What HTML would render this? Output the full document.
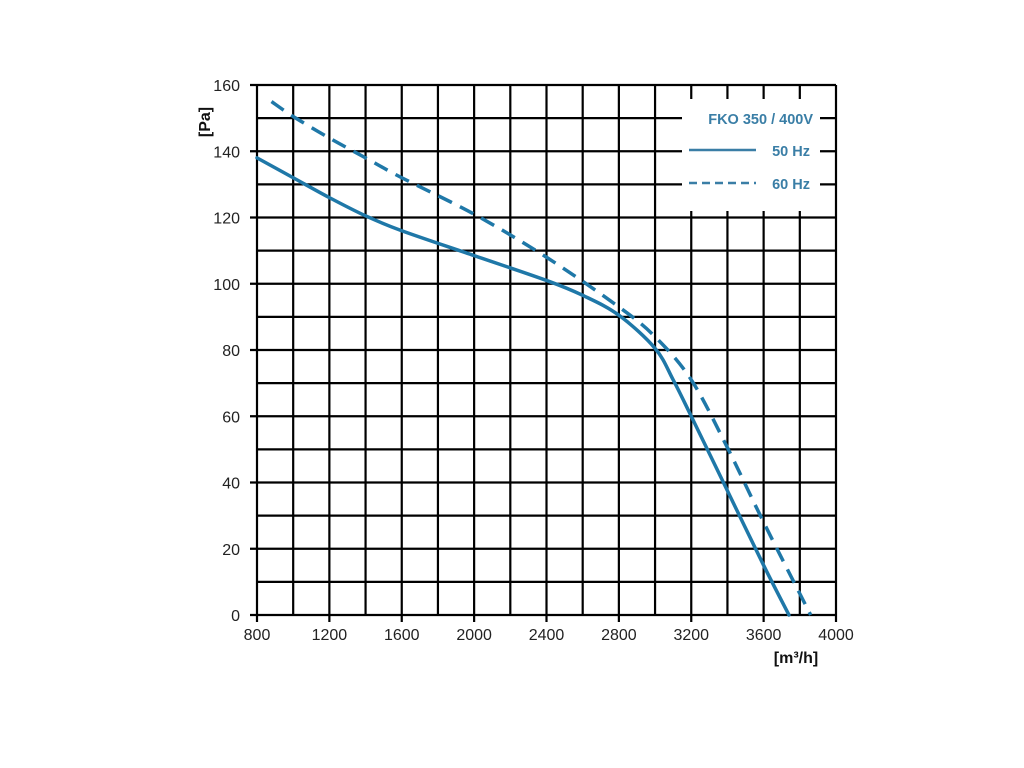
<!DOCTYPE html>
<html><head><meta charset="utf-8"><style>
html,body{margin:0;padding:0;background:#fff;width:1024px;height:768px;overflow:hidden}
svg{display:block}
text{font-family:"Liberation Sans",sans-serif}
</style></head><body>
<svg width="1024" height="768" viewBox="0 0 1024 768" xmlns="http://www.w3.org/2000/svg">
<g id="grid" stroke="#000" stroke-width="2.2" fill="none"></g>
<rect x="682" y="99" width="138" height="112" fill="#fff"/>
<g font-size="16" text-anchor="end" fill="#222" id="ylab"></g>
<g font-size="16" text-anchor="middle" fill="#222" id="xlab"></g>
<text x="210" y="122" font-size="16" font-weight="bold" fill="#111" transform="rotate(-90 210 122)" text-anchor="middle">[Pa]</text>
<text x="796" y="663" font-size="16" font-weight="bold" fill="#111" text-anchor="middle">[m³/h]</text>
<path id="s50" fill="none" stroke="#1f78a8" stroke-width="3.5" stroke-linecap="round"/>
<path id="s60" fill="none" stroke="#1f78a8" stroke-width="3.5" stroke-dasharray="15,9"/>
<g font-family="Liberation Sans" font-weight="bold" font-size="14.5" fill="#3a7ea6">
<text x="813" y="124" text-anchor="end">FKO 350 / 400V</text>
<line x1="689" y1="150" x2="756" y2="150" stroke="#3a7ea6" stroke-width="2.5"/>
<text x="810" y="156" text-anchor="end">50 Hz</text>
<line x1="689" y1="183" x2="756" y2="183" stroke="#3a7ea6" stroke-width="2.5" stroke-dasharray="8,5"/>
<text x="810" y="189" text-anchor="end">60 Hz</text>
</g>
</svg>
<script>
const L=257,R=836,T=85,B=615;
const X=v=>L+(v-800)/3200*(R-L), Y=v=>B-v/160*(B-T);
let g=document.getElementById('grid'),s='';
for(let i=0;i<=16;i++){let x=L+i*(R-L)/16;s+=`<line x1="${x}" y1="${T}" x2="${x}" y2="${B+(i%2==0?7:0)}"/>`;}
for(let j=0;j<=16;j++){let y=T+j*(B-T)/16;s+=`<line x1="${L-(j%2==0?7:0)}" y1="${y}" x2="${R}" y2="${y}"/>`;}
g.innerHTML=s;
let yl='';for(let v=0;v<=160;v+=20)yl+=`<text x="240" y="${Y(v)+6}">${v}</text>`;
document.getElementById('ylab').innerHTML=yl;
let xl='';for(let v=800;v<=4000;v+=400)xl+=`<text x="${X(v)}" y="640">${v}</text>`;
document.getElementById('xlab').innerHTML=xl;
function path(pts){let p=pts.map(a=>[X(a[0]),Y(a[1])]);let d=`M${p[0][0]},${p[0][1]}`;
for(let i=0;i<p.length-1;i++){let p0=p[i-1]||p[i],p1=p[i],p2=p[i+1],p3=p[i+2]||p2;
d+=` C${p1[0]+(p2[0]-p0[0])/6},${p1[1]+(p2[1]-p0[1])/6} ${p2[0]-(p3[0]-p1[0])/6},${p2[1]-(p3[1]-p1[1])/6} ${p2[0]},${p2[1]}`;}return d;}
document.getElementById('s50').setAttribute('d',path([[800,138],[1000,132],[1200,126],[1400,120.5],[1600,116],[2000,108.5],[2400,101],[2600,96.5],[2800,90.5],[3000,80.5],[3100,71],[3200,60],[3400,37.5],[3600,15],[3740,0]]));
document.getElementById('s60').setAttribute('d',path([[880,155],[1000,150.5],[1200,144],[1400,138],[1600,132],[2000,121],[2400,108],[2800,93],[3000,84],[3200,71],[3400,50.5],[3600,28],[3860,0]]));
</script>
</body></html>
